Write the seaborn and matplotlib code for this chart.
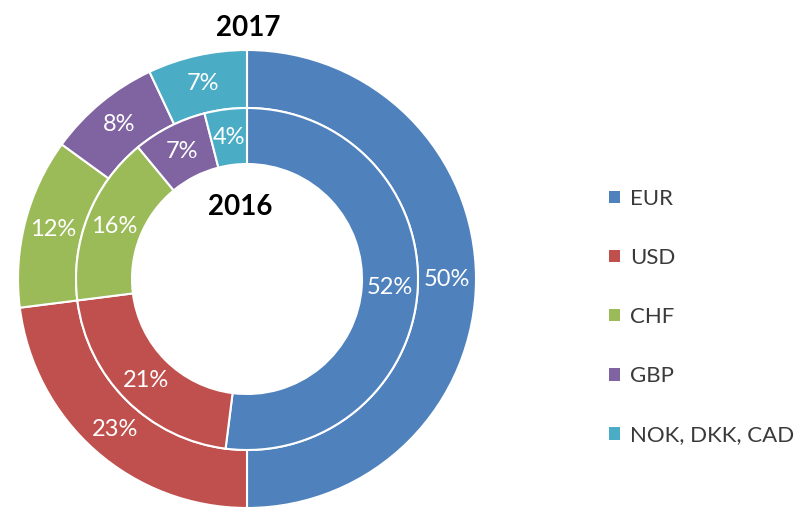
import numpy as np
import matplotlib
matplotlib.use("Agg")
import matplotlib.pyplot as plt
import seaborn as sns
from matplotlib.patches import Patch

# Data
currencies = ["EUR", "USD", "CHF", "GBP", "NOK, DKK, CAD"]
share_2017 = [50, 23, 12, 8, 7]   # outer ring
share_2016 = [52, 21, 16, 7, 4]   # inner ring

COLORS = ["#4F81BD", "#C0504D", "#9BBB59", "#8064A2", "#4BACC6"]

sns.set_theme(style="white")
plt.rcParams['font.family'] = ['Lato', 'DejaVu Sans']

W, H = 795, 512
fig = plt.figure(figsize=(W / 100, H / 100), dpi=100)

# pie axes: centre (247, 279) px, outer radius 229 px
cx, cy, R = 247, 279, 229
ax = fig.add_axes([(cx - R) / W, (H - cy - R) / H, 2 * R / W, 2 * R / H])
palette = sns.color_palette(COLORS)

r_out, w_out = 1.0, 58 / R
r_in, w_in = 171 / R, 56 / R

outer, _ = ax.pie(share_2017, radius=r_out, colors=palette, startangle=90,
                  counterclock=False,
                  wedgeprops=dict(width=w_out, edgecolor="white", linewidth=1.5))
inner, _ = ax.pie(share_2016, radius=r_in, colors=palette, startangle=90,
                  counterclock=False,
                  wedgeprops=dict(width=w_in, edgecolor="white", linewidth=1.5))
ax.set_xlim(-1, 1)
ax.set_ylim(-1, 1)
ax.set_aspect("equal")
ax.axis("off")

def label_ring(wedges, values, radius):
    for w, v in zip(wedges, values):
        ang = np.deg2rad((w.theta1 + w.theta2) / 2)
        ax.text(radius * np.cos(ang), radius * np.sin(ang), f"{v}%",
                ha="center", va="center", color="white", fontsize=17)

label_ring(outer, share_2017, r_out - w_out / 2)
label_ring(inner, share_2016, r_in - w_in / 2)

fig.text(248 / W, 1 - 28 / H, "2017", ha="center", va="center",
         fontsize=20, fontweight="bold", color="black")
fig.text(240 / W, 1 - 207 / H, "2016", ha="center", va="center",
         fontsize=20, fontweight="bold", color="black")

handles = [Patch(facecolor=c, edgecolor="none") for c in palette]
fig.legend(handles, currencies, loc="center left",
           bbox_to_anchor=(609 / W, 1 - 317 / H), frameon=False,
           borderpad=0, borderaxespad=0,
           fontsize=16, labelspacing=1.76, handlelength=0.5, handleheight=0.5,
           handletextpad=0.45, labelcolor="#3a3a3a")

fig.savefig("out.png", dpi=100)
